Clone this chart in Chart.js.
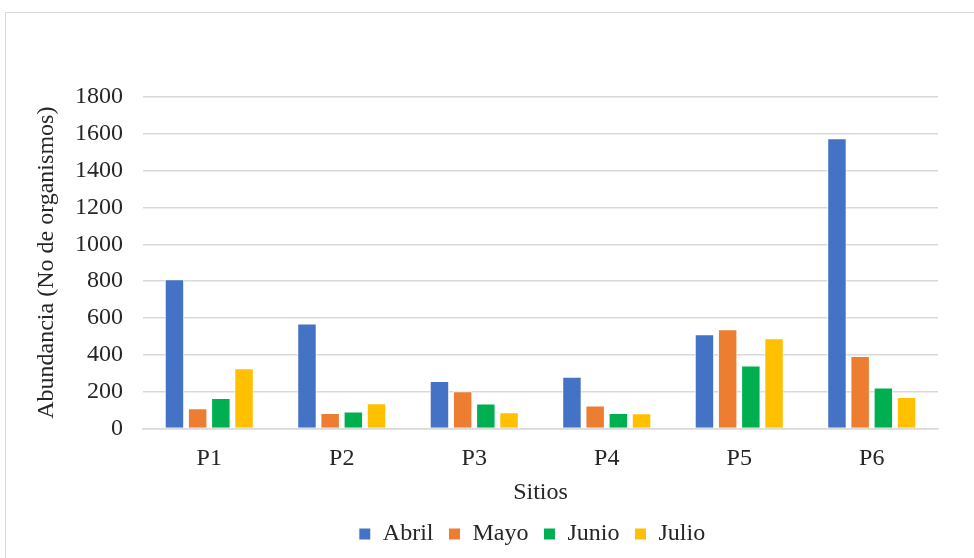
<!DOCTYPE html>
<html>
<head>
<meta charset="utf-8">
<script src="https://cdn.jsdelivr.net/npm/chart.js@4/dist/chart.umd.min.js"></script>
<style>
  html, body { margin: 0; padding: 0; background: #fff; overflow: hidden; }
  #marco { position: absolute; left: 5px; top: 12px; width: 975px; height: 560px; border: 1.5px solid #d9d9d9; }
  #wrap { position: absolute; left: 0; top: 0; width: 974px; height: 558px; }
</style>
</head>
<body>
<div id="marco"></div>
<div id="wrap"><canvas id="grafico" width="974" height="558"></canvas></div>
<script>
// sitios muestreados y abundancia por mes
const sitios = ['P1', 'P2', 'P3', 'P4', 'P5', 'P6'];
const abril = [810, 570, 258, 280, 512, 1576];
const mayo = [110, 83, 202, 125, 539, 393];
const junio = [165, 92, 135, 83, 342, 222];
const julio = [327, 136, 88, 82, 489, 170];
const colores = ['#4472C4', '#ED7D31', '#00B050', '#FFC000'];

const fuente = 'Liberation Serif, Times New Roman, serif';
const texto = '#262626';
const tam = 24;

function serie(nombre, datos, i) {
    return {
        label: nombre,
        data: datos,
        backgroundColor: colores[i],
        borderColor: '#ffffff',
        borderWidth: 1,
        barPercentage: 0.84,
        categoryPercentage: 0.7
    };
}

// corre la leyenda un poco a la derecha, centrada bajo el área de trazado
const moverLeyenda = {
    id: 'moverLeyenda',
    afterLayout(chart) {
        const ley = chart.legend;
        if (!ley) return;
        ley.left += 48;
        ley.right += 48;
    }
};

new Chart(document.getElementById('grafico'), {
    type: 'bar',
    data: {
        labels: sitios,
        datasets: [
            serie('Abril', abril, 0),
            serie('Mayo', mayo, 1),
            serie('Junio', junio, 2),
            serie('Julio', julio, 3)
        ]
    },
    plugins: [moverLeyenda],
    options: {
        responsive: false,
        animation: false,
        layout: { padding: { left: 30, right: 36, top: 97, bottom: 2 } },
        plugins: {
            tooltip: { enabled: false },
            legend: {
                position: 'bottom',
                labels: {
                    font: { family: fuente, size: tam },
                    color: texto,
                    boxWidth: 12,
                    boxHeight: 12,
                    padding: 15
                }
            }
        },
        scales: {
            x: {
                grid: { display: false },
                border: { color: '#d9d9d9', width: 1.5 },
                ticks: { font: { family: fuente, size: tam }, color: texto, padding: 8 },
                title: {
                    display: true,
                    text: 'Sitios',
                    font: { family: fuente, size: tam },
                    color: texto,
                    padding: { top: -3, bottom: 0 }
                }
            },
            y: {
                min: 0,
                max: 1800,
                afterFit: (eje) => { eje.width = 113; },
                ticks: {
                    stepSize: 200,
                    font: { family: fuente, size: tam },
                    color: texto,
                    padding: 20,
                    callback: (v) => String(v)
                },
                grid: { color: '#d9d9d9', lineWidth: 1.5, drawTicks: false },
                border: { display: false },
                title: {
                    display: true,
                    text: 'Abundancia (No de organismos)',
                    font: { family: fuente, size: tam },
                    color: texto,
                    padding: 2
                }
            }
        }
    }
});
</script>
</body>
</html>
